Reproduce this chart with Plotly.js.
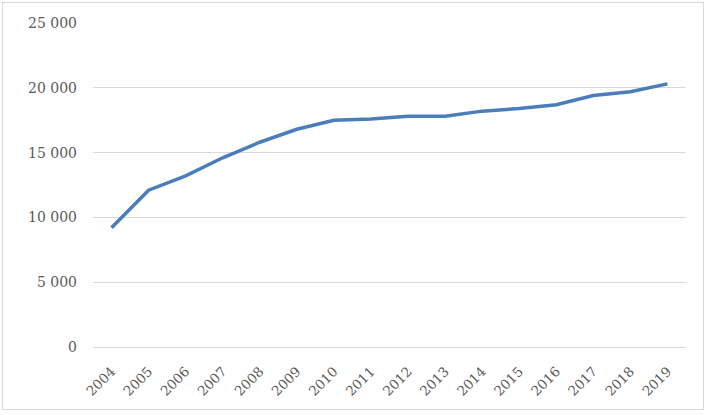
<!DOCTYPE html>
<html>
<head>
<meta charset="utf-8">
<script src="https://cdn.plot.ly/plotly-3.0.1.min.js"></script>
<style>
html,body{margin:0;padding:0;background:#fff;}
#chart{position:absolute;left:0;top:0;width:708px;height:415px;}
#frame{position:absolute;left:2px;top:2px;width:702px;height:408px;border:1px solid #d9d9d9;box-sizing:border-box;pointer-events:none;}
</style>
</head>
<body>
<div id="chart"></div>
<div id="frame"></div>
<script>
const years = ["2004","2005","2006","2007","2008","2009","2010","2011","2012","2013","2014","2015","2016","2017","2018","2019"];
const values = [9200, 12100, 13200, 14600, 15800, 16800, 17500, 17600, 17800, 17800, 18200, 18400, 18700, 19400, 19700, 20300];
const yTicks = [0, 5000, 10000, 15000, 20000, 25000];

const trace = {
  x: years,
  y: values,
  type: 'scatter',
  mode: 'lines',
  line: {color: '#4a7ebb', width: 3.5},
  hoverinfo: 'x+y'
};

const layout = {
  width: 708,
  height: 415,
  margin: {l: 93, r: 22, t: 23, b: 68},
  paper_bgcolor: '#ffffff',
  plot_bgcolor: '#ffffff',
  showlegend: false,
  separators: '. ',
  font: {family: 'DejaVu Serif, serif', color: '#595959', size: 14},
  xaxis: {
    type: 'category',
    range: [-0.5, years.length - 0.5],
    tickangle: -45,
    showgrid: false,
    showline: false,
    zeroline: false,
    ticks: '',
    tickfont: {size: 13.5, color: '#595959'},
    ticklabelstandoff: 13
  },
  yaxis: {
    range: [0, 25000],
    tickvals: yTicks,
    tickformat: ',.0f',
    showgrid: true,
    gridcolor: '#d9d9d9',
    gridwidth: 1,
    zeroline: true,
    zerolinecolor: '#d9d9d9',
    zerolinewidth: 1,
    showline: false,
    ticks: '',
    ticklen: 0,
    tickfont: {size: 14, color: '#595959'},
    ticklabelstandoff: 15
  }
};

Plotly.newPlot('chart', [trace], layout, {displayModeBar: false, staticPlot: true});
</script>
</body>
</html>
